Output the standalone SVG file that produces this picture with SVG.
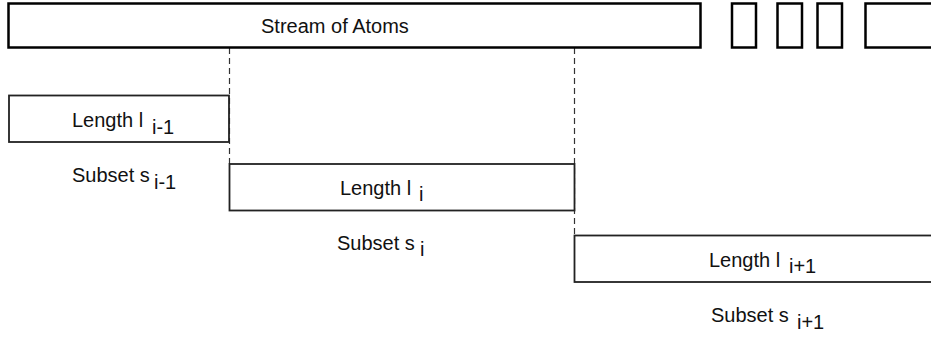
<svg xmlns="http://www.w3.org/2000/svg" width="931" height="339" viewBox="0 0 931 339">
<style>
.top{fill:#fff;stroke:#000;stroke-width:2.5}
.box{fill:#fff;stroke:#222;stroke-width:1.8}
.dash{fill:none;stroke:#333;stroke-width:1.2;stroke-dasharray:6,4}
text{font-family:"Liberation Sans",Arial,sans-serif;font-size:20px;fill:#111}
</style>
<rect width="931" height="339" fill="#fff"/>
<g id="connectors">
<line class="dash" x1="229.5" y1="48" x2="229.5" y2="164"/>
<line class="dash" x1="574.5" y1="48" x2="574.5" y2="235"/>
</g>
<g id="stream">
<rect class="top" x="8.5" y="3.5" width="692" height="44"/>
<text x="261" y="33">Stream of Atoms</text>
</g>
<g id="atom1"><rect class="top" x="732" y="3.5" width="24" height="44"/></g>
<g id="atom2"><rect class="top" x="777.5" y="3.5" width="24.5" height="44"/></g>
<g id="atom3"><rect class="top" x="817.5" y="3.5" width="24.5" height="44"/></g>
<g id="atom4"><rect class="top" x="865.5" y="3.5" width="70" height="44"/></g>
<g id="length-i-1">
<rect class="box" x="9" y="95.5" width="220" height="46.5"/>
<text x="72" y="127">Length l <tspan x="152" y="134">i-1</tspan></text>
</g>
<g id="subset-i-1">
<text x="72" y="182">Subset s <tspan x="154" y="189">i-1</tspan></text>
</g>
<g id="length-i">
<rect class="box" x="229.5" y="164" width="345" height="46.5"/>
<text x="340" y="195">Length l <tspan x="419" y="201">i</tspan></text>
</g>
<g id="subset-i">
<text x="337" y="250">Subset s <tspan x="420" y="256">i</tspan></text>
</g>
<g id="length-i+1">
<rect class="box" x="574.5" y="235.5" width="370" height="46.5"/>
<text x="709" y="267">Length l <tspan x="789" y="273">i+1</tspan></text>
</g>
<g id="subset-i+1">
<text x="711" y="322">Subset s <tspan x="797" y="329">i+1</tspan></text>
</g>
</svg>
